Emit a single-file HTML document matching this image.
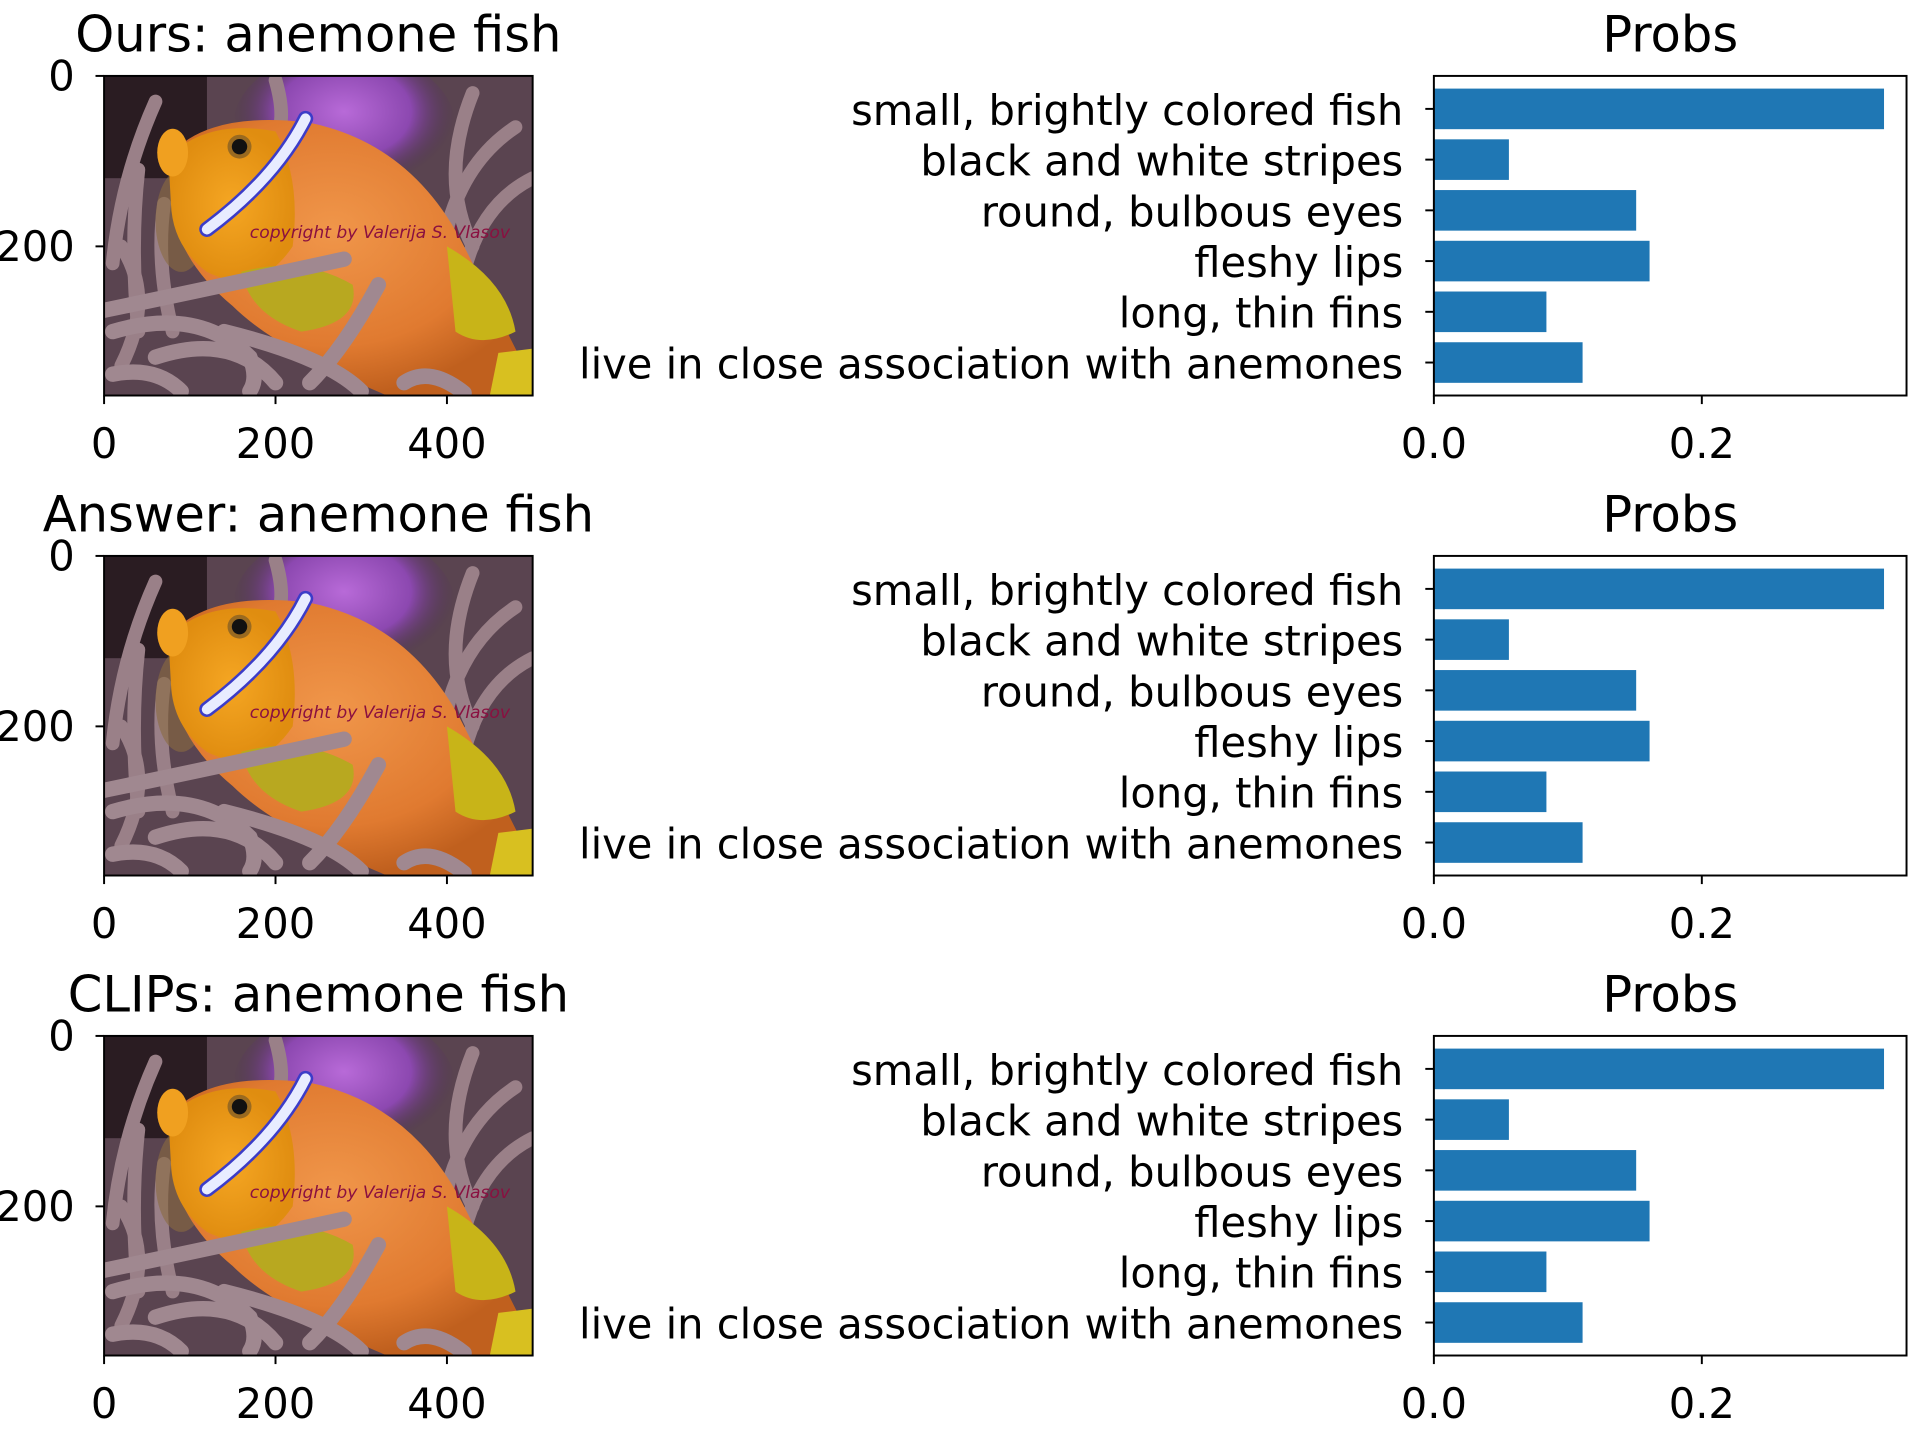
<!DOCTYPE html>
<html><head><meta charset="utf-8">
<style>
html,body{margin:0;padding:0;background:#fff;}
svg{display:block;}
text{font-family:"DejaVu Sans","Liberation Sans",sans-serif;fill:#000;}
</style></head>
<body>
<svg id="fig" width="1920" height="1440" viewBox="0 0 1568 1176" xmlns="http://www.w3.org/2000/svg">
<defs>
  <radialGradient id="purp" cx="0.5" cy="0.4" r="0.5">
    <stop offset="0" stop-color="#b86ad8"/><stop offset="0.6" stop-color="#8c48b0"/><stop offset="1" stop-color="#4a2c52" stop-opacity="0"/>
  </radialGradient>
  <radialGradient id="body" cx="0.45" cy="0.4" r="0.6">
    <stop offset="0" stop-color="#f0964a"/><stop offset="0.7" stop-color="#e07a30"/><stop offset="1" stop-color="#c0601e"/>
  </radialGradient>
  <radialGradient id="head" cx="0.5" cy="0.5" r="0.5">
    <stop offset="0" stop-color="#f5a623"/><stop offset="1" stop-color="#e08d10"/>
  </radialGradient>
  <symbol id="fishimg" viewBox="0 0 500 375" preserveAspectRatio="none">
    <rect x="0" y="0" width="500" height="375" fill="#5a4450"/>
    <rect x="0" y="0" width="120" height="120" fill="#2a1c22"/>
    <ellipse cx="280" cy="60" rx="130" ry="90" fill="url(#purp)"/>
    <g fill="none" stroke="#9a8088" stroke-width="16" stroke-linecap="round">
      <path d="M60 30 Q20 120 10 220"/>
      <path d="M200 5 Q210 40 205 60"/>
      <path d="M430 20 Q390 120 430 200"/>
      <path d="M480 60 Q420 100 400 180"/>
      <path d="M500 120 Q440 150 420 230"/>
      <path d="M40 110 Q30 200 40 300"/>
      <path d="M70 150 Q60 220 80 300"/>
      <path d="M20 200 Q60 260 20 340"/>
    </g>
    <ellipse cx="90" cy="170" rx="30" ry="60" fill="#8a6a40" opacity="0.6"/>
    <path d="M75 95 Q120 40 240 55 Q360 80 420 200 Q470 300 490 340 L500 375 L330 375 Q200 320 150 270 Q90 220 80 160 Z" fill="url(#body)"/>
    <path d="M75 95 Q120 50 200 65 Q230 120 220 200 Q180 260 120 230 Q80 200 78 150 Z" fill="url(#head)"/>
    <ellipse cx="80" cy="90" rx="18" ry="28" fill="#f0a020"/>
    <path d="M235 50 Q200 120 120 180" stroke="#3c3cc8" stroke-width="18" fill="none" stroke-linecap="round"/>
    <path d="M235 50 Q200 120 120 180" stroke="#e8ecff" stroke-width="12" fill="none" stroke-linecap="round"/>
    <circle cx="158" cy="83" r="14" fill="#9a6a20"/>
    <circle cx="158" cy="83" r="9" fill="#111"/>
    <path d="M400 200 Q470 240 480 300 Q440 320 410 300 Z" fill="#c8b418"/>
    <path d="M460 325 L500 320 L500 375 L450 375 Z" fill="#d8c020"/>
    <path d="M160 230 Q230 210 290 245 Q300 290 230 300 Q170 280 160 230 Z" fill="#b8a820"/>
    <g fill="none" stroke="#a08890" stroke-width="18" stroke-linecap="round">
      <path d="M0 275 Q120 250 280 215"/>
      <path d="M10 300 Q110 270 170 330 Q180 355 170 370"/>
      <path d="M320 245 Q280 320 240 360"/>
      <path d="M60 330 Q150 300 200 360"/>
      <path d="M140 300 Q260 330 300 370"/>
      <path d="M10 350 Q60 340 90 370"/>
      <path d="M350 360 Q380 340 420 372"/>
    </g>
    <text x="170" y="190" font-family="Liberation Serif, serif" font-style="italic" font-size="20" style="fill:#8a1040">copyright by Valerija S. Vlasov</text>
  </symbol>
</defs>
</svg>
<script>
const categories = ["small, brightly colored fish","black and white stripes","round, bulbous eyes","fleshy lips","long, thin fins","live in close association with anemones"];
const probs = [0.336, 0.056, 0.151, 0.161, 0.084, 0.111];
const panelTitles = ["Ours: anemone fish","Answer: anemone fish","CLIPs: anemone fish"];
const xTickValues = [0.0, 0.2];
const xTickLabels = ["0.0","0.2"];
const imgXTicks = [0, 200, 400];
const imgYTicks = [0, 200];

const NS = "http://www.w3.org/2000/svg";
const svg = document.getElementById("fig");
function mk(tag, attrs, parent){
  const e = document.createElementNS(NS, tag);
  for (const k in attrs) e.setAttribute(k, attrs[k]);
  (parent||svg).appendChild(e); return e;
}
const FS = 34;
const TFS = 40.5;
const IMG_W = 500, IMG_H = 375;
const maxP = Math.max(...probs) * 1.05;

panelTitles.forEach((title, p) => {
  const top = 62 + p * 392, h = 261;
  const g = mk("g", {});
  
  
  const ix0 = 85, iw = 350;
  const sx = v => ix0 + v / IMG_W * iw;
  const sy = v => top + v / IMG_H * h;
  const im = mk("use", {href:"#fishimg", x:ix0, y:top, width:iw, height:h}, g);
  
  
  const fr = mk("rect", {x:ix0, y:top, width:iw, height:h, fill:"none", stroke:"#000", "stroke-width":1.6}, g);
  
  
  const t = mk("text", {x:260, y:top - 20, "font-size":TFS, "text-anchor":"middle"}, g);
  t.textContent = title;
  
  
  imgXTicks.forEach(v => {
    mk("line", {x1:sx(v), x2:sx(v), y1:top+h, y2:top+h+7, stroke:"#000", "stroke-width":1.6}, g);
    const l = mk("text", {x:sx(v), y:top+h+51, "font-size":FS, "text-anchor":"middle"}, g);
    l.textContent = v;
    
    
  });
  imgYTicks.forEach(v => {
    mk("line", {x1:ix0-7, x2:ix0, y1:sy(v), y2:sy(v), stroke:"#000", "stroke-width":1.6}, g);
    const l = mk("text", {x:ix0-24, y:sy(v)+12, "font-size":FS, "text-anchor":"end"}, g);
    l.textContent = v;
    
    
  });
  const bx0 = 1171, bw = 386;
  const bx = v => bx0 + v / maxP * bw;
  const n = categories.length;
  const step = h / (n + 0.3);
  const by = i => top + step * (i + 0.65);
  const pt = mk("text", {x:1364, y:top - 20, "font-size":TFS, "text-anchor":"middle"}, g);
  pt.textContent = "Probs";
  
  
  probs.forEach((v, i) => {
    const r = mk("rect", {x:bx(0), y:by(i) - step*0.4, width:bx(v)-bx(0), height:step*0.8, fill:"#1f77b4"}, g);
    
    
    mk("line", {x1:bx0-7, x2:bx0, y1:by(i), y2:by(i), stroke:"#000", "stroke-width":1.6}, g);
    const l = mk("text", {x:bx0-25, y:by(i)+13, "font-size":FS, "text-anchor":"end"}, g);
    l.textContent = categories[i];
    
    
  });
  const ax = mk("rect", {x:bx0, y:top, width:bw, height:h, fill:"none", stroke:"#000", "stroke-width":1.6}, g);
  
  
  xTickValues.forEach((v, k) => {
    mk("line", {x1:bx(v), x2:bx(v), y1:top+h, y2:top+h+7, stroke:"#000", "stroke-width":1.6}, g);
    const l = mk("text", {x:bx(v), y:top+h+51, "font-size":FS, "text-anchor":"middle"}, g);
    l.textContent = xTickLabels[k];
    
    
  });
});
</script>
</body></html>
